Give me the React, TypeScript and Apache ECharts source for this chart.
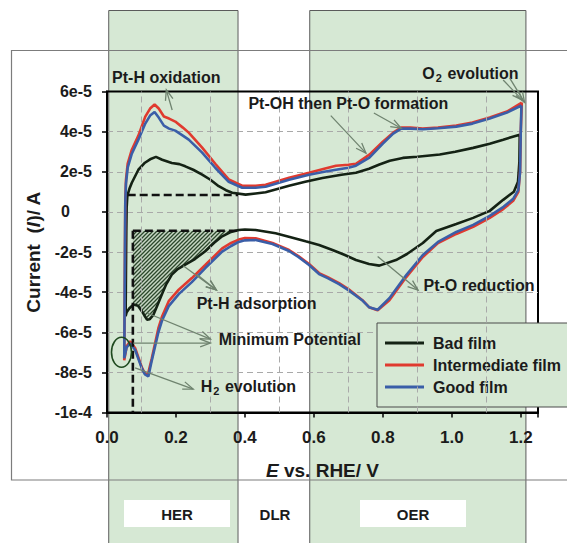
import React, { useEffect, useRef } from 'react';
import * as echarts from 'echarts';

type Pt = [number, number];

// Potential window and axis ticks
const E_MIN = 0;
const E_MAX = 1.25;
const E_STEP = 0.2;
const I_MIN = -1e-4;
const I_MAX = 6e-5;
const I_STEP = 2e-5;
const gridE = [0.1, 0.3, 0.5, 0.7, 0.9, 1.1];

// Region bands (V)
const herBand: Pt = [0.005, 0.38];
const oerBand: Pt = [0.588, 1.215];

// Bad film: cathodic sweep from 1.2 V, then anodic sweep back
const badCathodic: Pt[] = [
  [1.197, 3.85e-5], [1.196, 2.5e-5], [1.192, 1.5e-5], [1.18, 1.0e-5], [1.149, 0.6e-5],
  [1.11, 0.05e-5], [1.062, -0.3e-5], [1.013, -0.6e-5], [0.955, -0.95e-5], [0.916, -1.55e-5],
  [0.87, -2.1e-5], [0.838, -2.4e-5], [0.79, -2.68e-5], [0.76, -2.6e-5], [0.722, -2.4e-5],
  [0.69, -2.15e-5], [0.654, -1.9e-5], [0.615, -1.65e-5], [0.576, -1.47e-5], [0.53, -1.25e-5],
  [0.489, -1.07e-5], [0.431, -0.9e-5], [0.4, -0.88e-5], [0.382, -0.9e-5], [0.36, -1.0e-5],
  [0.334, -1.22e-5], [0.31, -1.55e-5], [0.285, -1.96e-5], [0.255, -2.35e-5], [0.227, -2.63e-5],
  [0.205, -2.85e-5], [0.188, -3.13e-5], [0.172, -3.6e-5], [0.159, -4.12e-5], [0.145, -4.7e-5],
  [0.135, -5.12e-5], [0.124, -5.35e-5], [0.116, -5.37e-5], [0.108, -5.15e-5], [0.101, -4.95e-5],
  [0.09, -4.68e-5], [0.077, -4.62e-5], [0.065, -4.8e-5], [0.057, -5.0e-5], [0.054, -5.2e-5],
];
const badAnodic: Pt[] = [
  [0.055, -3e-5], [0.056, -1e-5], [0.057, 0.2e-5], [0.059, 0.8e-5], [0.065, 1.15e-5],
  [0.072, 1.45e-5], [0.091, 2.1e-5], [0.11, 2.45e-5], [0.125, 2.62e-5], [0.142, 2.74e-5],
  [0.16, 2.6e-5], [0.188, 2.44e-5], [0.21, 2.38e-5], [0.227, 2.27e-5], [0.25, 2.1e-5],
  [0.276, 1.86e-5], [0.3, 1.6e-5], [0.324, 1.28e-5], [0.345, 1.08e-5], [0.363, 0.95e-5],
  [0.402, 0.86e-5], [0.431, 0.92e-5], [0.46, 0.98e-5], [0.528, 1.3e-5], [0.575, 1.5e-5],
  [0.625, 1.69e-5], [0.68, 1.85e-5], [0.722, 1.95e-5], [0.76, 2.15e-5], [0.79, 2.36e-5],
  [0.82, 2.55e-5], [0.858, 2.69e-5], [0.9, 2.75e-5], [0.965, 2.86e-5], [1.01, 3.0e-5],
  [1.062, 3.19e-5], [1.11, 3.4e-5], [1.149, 3.6e-5], [1.197, 3.85e-5],
];

// Intermediate film
const midCathodic: Pt[] = [
  [1.203, 5.45e-5], [1.2, 4.0e-5], [1.198, 2.0e-5], [1.193, 1.0e-5], [1.178, 0.55e-5],
  [1.15, 0.15e-5], [1.11, -0.3e-5], [1.062, -0.75e-5], [1.013, -1.1e-5], [0.96, -1.55e-5],
  [0.916, -2.25e-5], [0.868, -3.25e-5], [0.819, -4.4e-5], [0.785, -4.9e-5], [0.76, -4.75e-5],
  [0.741, -4.4e-5], [0.7, -3.85e-5], [0.673, -3.55e-5], [0.64, -3.25e-5], [0.615, -3.05e-5],
  [0.586, -2.6e-5], [0.555, -2.2e-5], [0.528, -1.9e-5], [0.48, -1.55e-5], [0.431, -1.32e-5],
  [0.4, -1.3e-5], [0.382, -1.38e-5], [0.36, -1.55e-5], [0.334, -1.82e-5], [0.285, -2.65e-5],
  [0.246, -3.3e-5], [0.208, -3.88e-5], [0.179, -4.45e-5], [0.16, -5.2e-5], [0.149, -5.8e-5],
  [0.13, -7.3e-5], [0.118, -8.15e-5], [0.108, -8.0e-5], [0.101, -7.75e-5], [0.082, -6.8e-5],
  [0.067, -6.45e-5], [0.057, -6.7e-5], [0.05, -7.4e-5],
];
const midAnodic: Pt[] = [
  [0.051, -5.0e-5], [0.052, -2.0e-5], [0.053, 0.5e-5], [0.055, 1.6e-5], [0.06, 2.4e-5],
  [0.072, 3.1e-5], [0.091, 3.8e-5], [0.111, 4.75e-5], [0.125, 5.15e-5], [0.138, 5.35e-5],
  [0.15, 5.15e-5], [0.165, 4.75e-5], [0.18, 4.65e-5], [0.198, 4.5e-5], [0.22, 4.2e-5],
  [0.237, 3.95e-5], [0.276, 3.2e-5], [0.314, 2.4e-5], [0.353, 1.62e-5], [0.392, 1.3e-5],
  [0.431, 1.3e-5], [0.46, 1.35e-5], [0.528, 1.7e-5], [0.586, 1.95e-5], [0.63, 2.15e-5],
  [0.664, 2.3e-5], [0.7, 2.35e-5], [0.722, 2.4e-5], [0.761, 2.85e-5], [0.8, 3.5e-5],
  [0.83, 3.95e-5], [0.853, 4.2e-5], [0.88, 4.2e-5], [0.916, 4.15e-5], [0.96, 4.2e-5],
  [1.013, 4.3e-5], [1.06, 4.45e-5], [1.11, 4.7e-5], [1.16, 5.0e-5], [1.203, 5.45e-5],
];

// Good film
const goodCathodic: Pt[] = [
  [1.202, 5.3e-5], [1.2, 4.0e-5], [1.198, 2.0e-5], [1.193, 1.1e-5], [1.178, 0.65e-5],
  [1.15, 0.25e-5], [1.11, -0.2e-5], [1.062, -0.65e-5], [1.013, -1.0e-5], [0.96, -1.5e-5],
  [0.916, -2.15e-5], [0.868, -3.15e-5], [0.819, -4.3e-5], [0.785, -4.88e-5], [0.76, -4.75e-5],
  [0.741, -4.42e-5], [0.7, -3.9e-5], [0.673, -3.6e-5], [0.64, -3.3e-5], [0.615, -3.1e-5],
  [0.586, -2.65e-5], [0.555, -2.25e-5], [0.528, -1.95e-5], [0.48, -1.6e-5], [0.431, -1.4e-5],
  [0.4, -1.42e-5], [0.382, -1.5e-5], [0.36, -1.7e-5], [0.334, -1.98e-5], [0.285, -2.8e-5],
  [0.246, -3.5e-5], [0.208, -4.1e-5], [0.179, -4.7e-5], [0.16, -5.4e-5], [0.149, -6.0e-5],
  [0.13, -7.4e-5], [0.12, -8.2e-5], [0.11, -8.1e-5], [0.101, -7.8e-5], [0.082, -6.9e-5],
  [0.067, -6.55e-5], [0.057, -6.75e-5], [0.05, -7.3e-5],
];
const goodAnodic: Pt[] = [
  [0.051, -5.0e-5], [0.052, -2.0e-5], [0.053, 0.4e-5], [0.055, 1.4e-5], [0.06, 2.2e-5],
  [0.072, 2.9e-5], [0.091, 3.6e-5], [0.111, 4.4e-5], [0.125, 4.8e-5], [0.138, 4.98e-5],
  [0.15, 4.7e-5], [0.165, 4.3e-5], [0.18, 4.15e-5], [0.198, 4.05e-5], [0.22, 3.8e-5],
  [0.237, 3.6e-5], [0.276, 2.95e-5], [0.314, 2.2e-5], [0.353, 1.5e-5], [0.392, 1.2e-5],
  [0.431, 1.2e-5], [0.46, 1.25e-5], [0.528, 1.6e-5], [0.586, 1.85e-5], [0.63, 2.0e-5],
  [0.664, 2.1e-5], [0.7, 2.2e-5], [0.722, 2.3e-5], [0.761, 2.7e-5], [0.8, 3.4e-5],
  [0.83, 3.9e-5], [0.853, 4.15e-5], [0.88, 4.15e-5], [0.916, 4.12e-5], [0.96, 4.17e-5],
  [1.013, 4.25e-5], [1.06, 4.4e-5], [1.11, 4.65e-5], [1.16, 4.95e-5], [1.202, 5.3e-5],
];

// Guide lines for the Pt-H charge integration
const dashUpper: Pt[] = [[0.06, 0.84e-5], [0.38, 0.84e-5]];
const dashLower: Pt[] = [[0.075, -0.94e-5], [0.38, -0.94e-5]];
const dashMinPotential: Pt[] = [[0.075, -0.94e-5], [0.075, -1e-4]];
const hatchRange: Pt = [0.075, 0.37];

// Annotation labels (centre, in E / I units) and their arrows (tail -> head)
const labels: { text: string; at: Pt }[] = [
  { text: 'Pt-H oxidation', at: [0.172, 6.68e-5] },
  { text: 'Pt-OH then Pt-O formation', at: [0.7, 5.41e-5] },
  { text: '{a|O}{s|2}{a| evolution}', at: [1.054, 6.91e-5] },
  { text: 'Pt-O reduction', at: [1.079, -3.69e-5] },
  { text: 'Pt-H adsorption', at: [0.434, -4.58e-5] },
  { text: 'Minimum Potential', at: [0.53, -6.38e-5] },
  { text: '{a|H}{s|2}{a| evolution}', at: [0.41, -8.72e-5] },
];
const arrows: [Pt, Pt][] = [
  [[0.189, 5.08e-5], [0.172, 6.08e-5]],
  [[0.649, 4.8e-5], [0.751, 2.93e-5]],
  [[0.774, 4.93e-5], [0.853, 4.17e-5]],
  [[1.149, 6.57e-5], [1.205, 5.57e-5]],
  [[1.168, 6.67e-5], [1.211, 5.46e-5]],
  [[0.785, -2.23e-5], [0.902, -3.9e-5]],
  [[0.221, -2.69e-5], [0.317, -3.89e-5]],
  [[0.262, -3.14e-5], [0.317, -3.89e-5]],
  [[0.116, -5.04e-5], [0.3, -6.34e-5]],
  [[0.076, -6.54e-5], [0.3, -6.54e-5]],
  [[0.0815, -7.78e-5], [0.25, -8.83e-5]],
];
const h2Ring: Pt = [0.042, -7.0e-5];

const FONT = '"Liberation Sans", Arial, Helvetica, sans-serif';
const INK = '#1b1b1b';
const ARROW = '#6f836f';
const BAND = '#d6e8d4';

const makeHatch = () => {
  const c = document.createElement('canvas');
  c.width = 4;
  c.height = 4;
  const g = c.getContext('2d')!;
  g.fillStyle = '#c6d7c3';
  g.fillRect(0, 0, 4, 4);
  g.strokeStyle = '#2c472c';
  g.lineWidth = 1.3;
  g.beginPath();
  g.moveTo(0, 4); g.lineTo(4, 0);
  g.moveTo(-1, 1); g.lineTo(1, -1);
  g.moveTo(3, 5); g.lineTo(5, 3);
  g.stroke();
  return c;
};

const fmtCurrent = (v: number) => {
  if (Math.abs(v) < 1e-12) return '{z|0}';
  return v.toExponential(0).replace('+', '');
};

export default function App() {
  const ref = useRef<HTMLDivElement>(null);

  useEffect(() => {
    const chart = echarts.init(ref.current!, null, { renderer: 'svg' });

    const hatchEdge = badCathodic.filter(([e]) => e >= hatchRange[0] && e <= hatchRange[1]);
    const hatchPoly: Pt[] = [
      [hatchRange[0], dashLower[0][1]],
      [hatchRange[1], dashLower[0][1]],
      ...hatchEdge,
      [hatchRange[0], hatchEdge[hatchEdge.length - 1][1]],
    ];
    const hatchCanvas = makeHatch();

    const dashed = (data: Pt[]) => ({
      type: 'line',
      data,
      showSymbol: false,
      silent: true,
      z: 3,
      lineStyle: { color: '#111', width: 2.6, type: [8, 4] },
    });

    const curve = (name: string, data: Pt[], color: string) => ({
      type: 'line',
      name,
      data,
      showSymbol: false,
      symbol: 'none',
      z: 2,
      lineStyle: { color, width: 2.6 },
      itemStyle: { color },
    });

    chart.setOption({
      animation: false,
      backgroundColor: 'transparent',
      textStyle: { fontFamily: FONT },
      grid: {
        left: 107, top: 91.5, right: 29, bottom: 130.5,
        show: true, borderColor: '#000', borderWidth: 2, backgroundColor: 'transparent',
      },
      legend: {
        data: ['Bad film', 'Intermediate film', 'Good film'],
        orient: 'vertical',
        left: 377,
        top: 323,
        padding: [11, 60, 11, 8],
        itemGap: 4,
        itemWidth: 39,
        itemHeight: 3,
        icon: 'rect',
        backgroundColor: BAND,
        borderColor: '#4a4a4a',
        borderWidth: 1,
        textStyle: {
          fontFamily: FONT, fontSize: 16, fontWeight: 'bold', color: INK,
          lineHeight: 18, padding: [0, 0, 0, 4],
        },
      },
      xAxis: {
        type: 'value',
        min: E_MIN, max: E_MAX, interval: E_STEP,
        name: '{i|E}{a| vs. RHE/ V}',
        nameLocation: 'middle',
        nameGap: 48,
        nameTextStyle: {
          rich: {
            i: { fontFamily: FONT, fontSize: 19, fontWeight: 'bold', fontStyle: 'italic', color: INK },
            a: { fontFamily: FONT, fontSize: 19, fontWeight: 'bold', color: INK },
          },
        },
        axisLine: { show: true, onZero: false, lineStyle: { color: '#000', width: 2 } },
        axisTick: { show: true, length: 5, lineStyle: { color: '#000', width: 1.5 } },
        axisLabel: {
          margin: 16, fontFamily: FONT, fontSize: 17, fontWeight: 'bold', color: INK,
          formatter: (v: number) =>
            Math.abs(v / E_STEP - Math.round(v / E_STEP)) < 1e-6 ? v.toFixed(1) : '',
        },
        splitLine: { show: false },
      },
      yAxis: {
        type: 'value',
        min: I_MIN, max: I_MAX, interval: I_STEP,
        name: '{a|Current  (}{i|I}{a|)/ A}',
        nameLocation: 'middle',
        nameRotate: 90,
        nameGap: 64,
        nameTextStyle: {
          rich: {
            i: { fontFamily: FONT, fontSize: 19, fontWeight: 'bold', fontStyle: 'italic', color: INK },
            a: { fontFamily: FONT, fontSize: 19, fontWeight: 'bold', color: INK },
          },
        },
        axisLine: { show: true, onZero: false, lineStyle: { color: '#000', width: 2 } },
        axisTick: { show: true, length: 5, lineStyle: { color: '#000', width: 1.5 } },
        axisLabel: {
          margin: 15, fontFamily: FONT, fontSize: 16, fontWeight: 'bold', color: INK,
          align: 'right',
          formatter: fmtCurrent,
          rich: {
            z: { width: 31, align: 'left', fontFamily: FONT, fontSize: 16, fontWeight: 'bold', color: INK },
          },
        },
        splitLine: {
          show: true,
          showMinLine: false,
          showMaxLine: false,
          lineStyle: { color: '#a9a9a9', width: 1, type: [6, 4] },
        },
      },
      series: [
        {
          type: 'line',
          name: 'grid-e',
          data: [],
          silent: true,
          z: 1,
          markLine: {
            silent: true,
            symbol: 'none',
            label: { show: false },
            lineStyle: { color: '#a9a9a9', width: 1, type: [6, 4] },
            data: gridE.map((e) => ({ xAxis: e })),
          },
        },
        {
          type: 'custom',
          name: 'hatch',
          silent: true,
          z: 1,
          data: hatchPoly,
          encode: { x: 0, y: 1 },
          renderItem: (params: any, api: any) => {
            if (params.dataIndex !== 0) return null;
            return {
              type: 'polygon',
              shape: { points: hatchPoly.map((p) => api.coord(p)) },
              style: {
                fill: { image: hatchCanvas, repeat: 'repeat', imageWidth: 4, imageHeight: 4 },
                stroke: 'none',
              },
            };
          },
        },
        curve('Bad film', [...badCathodic, ...badAnodic], '#142214'),
        curve('Intermediate film', [...midCathodic, ...midAnodic], '#e03a2f'),
        curve('Good film', [...goodCathodic, ...goodAnodic], '#3a5ea8'),
        dashed(dashUpper),
        dashed(dashLower),
        dashed(dashMinPotential),
      ],
    });

    const toPx = (p: Pt) => chart.convertToPixel({ gridIndex: 0 }, p) as number[];
    const xPx = (e: number) => toPx([e, 0])[0];

    const arrowEls = (a: number[], b: number[]) => {
      const ang = Math.atan2(b[1] - a[1], b[0] - a[0]);
      const L = 11;
      const w = 0.36;
      const p1 = [b[0] - L * Math.cos(ang - w), b[1] - L * Math.sin(ang - w)];
      const p2 = [b[0] - L * Math.cos(ang + w), b[1] - L * Math.sin(ang + w)];
      return [
        { type: 'line', silent: true, z: 10, shape: { x1: a[0], y1: a[1], x2: b[0], y2: b[1] },
          style: { stroke: ARROW, lineWidth: 1.3 } },
        { type: 'polyline', silent: true, z: 10, shape: { points: [p1, b, p2] },
          style: { stroke: ARROW, lineWidth: 1.3, fill: 'none' } },
      ];
    };

    const band = (r: Pt) => {
      const x0 = xPx(r[0]);
      const x1 = xPx(r[1]);
      return {
        type: 'rect', silent: true, z: -10,
        shape: { x: x0, y: 10.5, width: x1 - x0, height: 560 },
        style: { fill: BAND, stroke: '#5b5b5b', lineWidth: 1 },
      };
    };

    const boxText = (text: string, cx: number, boxed: boolean) => {
      const els: any[] = [];
      if (boxed) {
        els.push({
          type: 'rect', silent: true, z: -4,
          shape: { x: cx - 53, y: 500, width: 106, height: 27 },
          style: { fill: '#ffffff' },
        });
      }
      els.push({
        type: 'text', silent: true, z: -3, x: cx, y: 514,
        style: { text, fontFamily: FONT, fontSize: 15, fontWeight: 'bold', fill: INK,
          align: 'center', verticalAlign: 'middle' },
      });
      return els;
    };

    const ringPx = toPx(h2Ring);

    const elements: any[] = [
      band(herBand),
      band(oerBand),
      {
        type: 'rect', silent: true, z: -5,
        shape: { x: 11.5, y: 50.5, width: 620, height: 429.5 },
        style: { fill: 'none', stroke: '#7c7c7c', lineWidth: 1.2 },
      },
      ...boxText('HER', 177, true),
      ...boxText('DLR', 275, false),
      ...boxText('OER', 413, true),
      ...labels.map((l) => {
        const p = toPx(l.at);
        return {
          type: 'text', silent: true, z: 10, x: p[0], y: p[1],
          style: {
            text: l.text, fontFamily: FONT, fontSize: 16, fontWeight: 'bold', fill: INK,
            align: 'center', verticalAlign: 'middle',
            rich: {
              a: { fontFamily: FONT, fontSize: 16, fontWeight: 'bold', fill: INK, lineHeight: 20, verticalAlign: 'middle' },
              s: { fontFamily: FONT, fontSize: 11, fontWeight: 'bold', fill: INK, lineHeight: 20, verticalAlign: 'bottom', padding: [0, 1, 0, 1] },
            },
          },
        };
      }),
      ...arrows.flatMap(([a, b]) => arrowEls(toPx(a), toPx(b))),
      {
        type: 'ellipse', silent: true, z: 10,
        shape: { cx: ringPx[0], cy: ringPx[1], rx: 10, ry: 15 },
        style: { fill: 'none', stroke: '#1f4a1f', lineWidth: 1.6 },
      },
    ];

    chart.setOption({ graphic: elements });

    return () => chart.dispose();
  }, []);

  return (
    <div
      ref={ref}
      style={{ position: 'fixed', left: 0, top: 0, width: 567, height: 543, background: '#fff' }}
    />
  );
}
